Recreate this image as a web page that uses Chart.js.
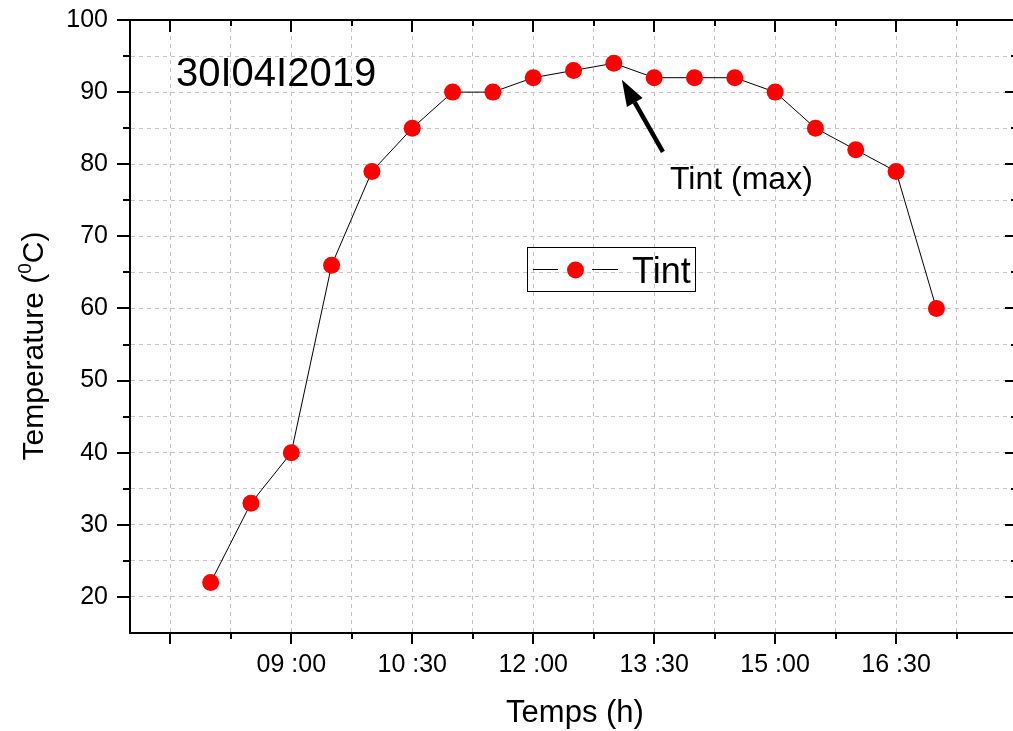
<!DOCTYPE html>
<html>
<head>
<meta charset="utf-8">
<script src="https://cdn.jsdelivr.net/npm/chart.js@4/dist/chart.umd.min.js"></script>
<style>
  html, body { margin: 0; padding: 0; background: #fff; overflow: hidden; }
  #chart { display: block; }
</style>
</head>
<body>
<canvas id="chart" width="1013" height="731"></canvas>
<script>
// measured times (hh:mm) and inside temperature
const timeLabels = ['08:00', '08:30', '09:00', '09:30', '10:00', '10:30', '11:00', '11:30', '12:00', '12:30',
  '13:00', '13:30', '14:00', '14:30', '15:00', '15:30', '16:00', '16:30', '17:00']
const tempInt = [22, 33, 40, 66, 79, 85, 90, 90, 92, 93, 94, 92, 92, 92, 90, 85, 82, 79, 60]

// axis ticks (minutes since midnight)
const xMajorTicks = [450, 540, 630, 720, 810, 900, 990]
const xTickLabels = ['', '09 :00', '10 :30', '12 :00', '13 :30', '15 :00', '16 :30']
const xMinorTicks = [495, 585, 675, 765, 855, 945, 1035]
const yMajorTicks = [20, 30, 40, 50, 60, 70, 80, 90]
const yMinorTicks = [25, 35, 45, 55, 65, 75, 85, 95]

const FONT = '"Liberation Sans", Arial, sans-serif'

const toMinutes = (s) => {
  const [h, m] = s.split(':').map(Number)
  return h * 60 + m
}

const points = timeLabels.map((t, i) => ({ x: toMinutes(t), y: tempInt[i] }))

const frame = {
  id: 'frame',
  afterDraw(chart) {
    const { ctx, chartArea: a, scales } = chart
    const xs = scales.x
    const ys = scales.y
    ctx.save()
    ctx.strokeStyle = '#000'
    ctx.lineWidth = 2
    ctx.strokeRect(a.left, a.top, a.right - a.left + 1, a.bottom - a.top)

    const tick = (x1, y1, x2, y2) => {
      ctx.beginPath()
      ctx.moveTo(x1, y1)
      ctx.lineTo(x2, y2)
      ctx.stroke()
    }
    xMajorTicks.forEach((v) => {
      const px = Math.round(xs.getPixelForValue(v))
      tick(px, a.bottom, px, a.bottom + 11)
      tick(px, a.top, px, a.top + 12)
    })
    xMinorTicks.forEach((v) => {
      const px = Math.round(xs.getPixelForValue(v))
      tick(px, a.bottom, px, a.bottom + 6)
      tick(px, a.top, px, a.top + 6)
    })
    yMajorTicks.concat([100]).forEach((v) => {
      const py = Math.round(ys.getPixelForValue(v))
      tick(a.left - 13, py, a.left, py)
      tick(a.right - 8, py, a.right, py)
    })
    yMinorTicks.forEach((v) => {
      const py = Math.round(ys.getPixelForValue(v))
      tick(a.left - 7, py, a.left, py)
      tick(a.right - 2, py, a.right, py)
    })

    // axis titles
    ctx.fillStyle = '#000'
    ctx.font = '31px ' + FONT
    ctx.textAlign = 'center'
    ctx.textBaseline = 'alphabetic'
    ctx.fillText('Temps (h)', 575, 722)

    ctx.save()
    ctx.translate(43, 346)
    ctx.rotate(-Math.PI / 2)
    const p1 = 'Temperature ('
    const p2 = '0'
    const p3 = 'C)'
    ctx.font = '30px ' + FONT
    const w1 = ctx.measureText(p1).width
    const w3 = ctx.measureText(p3).width
    ctx.font = '19px ' + FONT
    const w2 = ctx.measureText(p2).width
    const x0 = -(w1 + w2 + w3) / 2
    ctx.textAlign = 'left'
    ctx.font = '30px ' + FONT
    ctx.fillText(p1, x0, 0)
    ctx.font = '19px ' + FONT
    ctx.fillText(p2, x0 + w1, -12)
    ctx.font = '30px ' + FONT
    ctx.fillText(p3, x0 + w1 + w2, 0)
    ctx.restore()

    // date label
    ctx.textAlign = 'left'
    ctx.font = '40px ' + FONT
    ctx.fillText('30I04I2019', 176, 86)

    // annotation arrow towards the maximum
    const tipX = xs.getPixelForValue(786)
    const tipY = ys.getPixelForValue(91.7)
    const tailX = xs.getPixelForValue(816.5)
    const tailY = ys.getPixelForValue(81.7)
    const ang = Math.atan2(tipY - tailY, tipX - tailX)
    const headLen = 26
    const headW = 9
    const bx = tipX - headLen * Math.cos(ang)
    const by = tipY - headLen * Math.sin(ang)
    ctx.lineWidth = 4.5
    tick(tailX, tailY, bx, by)
    ctx.beginPath()
    ctx.moveTo(tipX, tipY)
    ctx.lineTo(bx + headW * Math.sin(ang), by - headW * Math.cos(ang))
    ctx.lineTo(bx - headW * Math.sin(ang), by + headW * Math.cos(ang))
    ctx.closePath()
    ctx.fill()

    ctx.font = '32px ' + FONT
    ctx.fillText('Tint (max)', 670, 189)

    // legend
    const ds = chart.data.datasets[0]
    ctx.lineWidth = 1
    ctx.strokeStyle = '#000'
    ctx.strokeRect(527.5, 247.5, 168, 44)
    ctx.strokeStyle = ds.borderColor
    tick(533, 269.5, 558, 269.5)
    tick(592, 269.5, 618, 269.5)
    ctx.fillStyle = ds.pointBackgroundColor
    ctx.beginPath()
    ctx.arc(575.5, 270, ds.pointRadius, 0, Math.PI * 2)
    ctx.fill()
    ctx.fillStyle = '#000'
    ctx.font = '36px ' + FONT
    ctx.fillText('Tint', 632, 283)
    ctx.restore()
  },
}

const gridStyle = {
  color: '#c4c4c4',
  lineWidth: 1,
  drawTicks: false,
}

new Chart(document.getElementById('chart'), {
  type: 'line',
  data: {
    datasets: [
      {
        label: 'Tint',
        data: points,
        borderColor: '#000',
        borderWidth: 1,
        pointBackgroundColor: '#ff0000',
        pointBorderWidth: 0,
        pointRadius: 8.5,
        pointHoverRadius: 8.5,
        tension: 0,
      },
    ],
  },
  options: {
    responsive: false,
    animation: false,
    devicePixelRatio: 1,
    layout: { autoPadding: false, padding: { top: 20, right: 0, left: 0, bottom: 0 } },
    plugins: {
      legend: { display: false },
      tooltip: { enabled: false },
    },
    scales: {
      x: {
        type: 'linear',
        min: 420,
        max: 1077,
        afterBuildTicks: (scale) => {
          scale.ticks = xMajorTicks.concat(xMinorTicks).sort((a, b) => a - b).map((v) => ({ value: v }))
        },
        afterFit: (scale) => {
          scale.height = 98
          scale.paddingLeft = 0
          scale.paddingRight = 0
        },
        grid: gridStyle,
        border: { display: true, color: '#000', width: 2, dash: [4, 4] },
        ticks: {
          autoSkip: false,
          maxRotation: 0,
          padding: 17,
          color: '#000',
          font: { family: FONT, size: 25 },
          callback: (v) => {
            const i = xMajorTicks.indexOf(v)
            return i >= 0 ? xTickLabels[i] : ''
          },
        },
      },
      y: {
        min: 15,
        max: 100,
        afterBuildTicks: (scale) => {
          scale.ticks = yMajorTicks.concat(yMinorTicks, [100]).sort((a, b) => a - b).map((v) => ({ value: v }))
        },
        afterFit: (scale) => {
          scale.width = 130
          scale.paddingTop = 0
          scale.paddingBottom = 0
        },
        grid: {
          ...gridStyle,
          color: (c) => (c.tick && c.tick.value >= 100 ? 'rgba(0,0,0,0)' : '#c4c4c4'),
        },
        border: { display: true, color: '#000', width: 2, dash: [4, 4] },
        ticks: {
          padding: 22,
          color: '#000',
          font: { family: FONT, size: 25 },
          callback: (v) => (v % 10 === 0 ? String(v) : ''),
        },
      },
    },
  },
  plugins: [frame],
})
</script>
</body>
</html>
